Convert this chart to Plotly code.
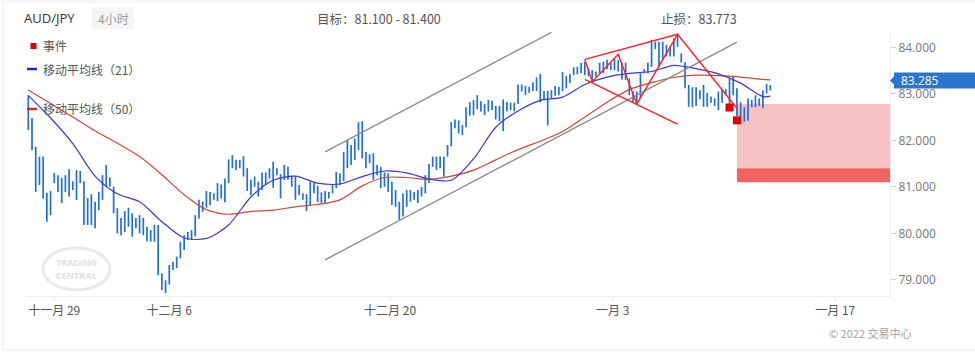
import plotly.graph_objects as go

# ---------------- data ----------------
symbol = "AUD/JPY"
timeframe = "4小时"
target_text = "目标：81.100 - 81.400"
stop_text = "止损：83.773"
last_price = 83.285
target_low, target_high = 81.1, 81.4
entry_level = 82.78

bar_high = [
    82.97, 82.48, 81.86, 81.65, 81.65, 80.87, 80.91, 81.30, 81.25, 81.19,
    81.25, 81.38, 81.12, 81.36, 81.34, 81.12, 80.76, 80.84, 80.68, 80.89,
    81.25, 81.47, 81.20, 81.00, 80.54, 80.33, 80.48, 80.55, 80.43, 80.33,
    80.39, 80.33, 80.14, 80.07, 80.18, 80.18, 79.14, 78.99, 79.32, 79.39,
    79.50, 79.82, 79.96, 80.03, 80.07, 80.39, 80.72, 80.68, 80.91, 80.89,
    80.86, 81.08, 81.05, 81.18, 81.59, 81.68, 81.58, 81.58, 81.66, 81.40,
    81.15, 81.22, 81.11, 81.31, 81.31, 81.40, 81.54, 81.40, 81.27, 81.47,
    81.43, 81.24, 81.22, 81.04, 80.86, 80.84, 81.11, 81.08, 81.02, 80.88,
    80.91, 80.89, 81.05, 81.32, 81.29, 81.75, 82.01, 81.90, 82.04, 82.39,
    82.41, 81.75, 81.70, 81.72, 81.47, 81.43, 81.31, 81.29, 81.11, 80.93,
    80.68, 80.86, 80.93, 80.93, 80.89, 80.93, 81.00, 81.25, 81.49, 81.65,
    81.65, 81.65, 81.65, 81.90, 82.39, 82.45, 82.43, 82.33, 82.71, 82.82,
    82.87, 82.97, 82.84, 82.78, 82.87, 82.85, 82.74, 82.74, 82.88, 82.83,
    82.81, 82.81, 83.20, 83.20, 83.17, 83.15, 83.25, 83.35, 83.43, 83.06,
    83.06, 83.08, 83.17, 83.15, 83.47, 83.38, 83.42, 83.57, 83.58, 83.66,
    83.69, 83.55, 83.51, 83.48, 83.67, 83.69, 83.73, 83.67, 83.76, 83.73,
    83.67, 83.67, 83.33, 83.05, 83.05, 83.44, 83.53, 83.67, 84.16, 84.12,
    84.12, 84.12, 84.05, 84.01, 84.19, 84.28, 83.87, 83.68, 83.19, 83.14,
    83.14, 83.08, 83.19, 83.02, 82.94, 82.90, 83.05, 83.10, 83.10, 83.33,
    83.37, 83.12, 82.82, 82.71, 82.90, 82.87, 82.97, 82.90, 83.07, 83.21,
    83.19,
]
bar_low = [
    82.22, 81.79, 80.89, 81.04, 80.75, 80.25, 80.39, 81.08, 80.89, 80.65,
    80.89, 80.79, 80.93, 80.72, 81.08, 80.18, 80.18, 80.18, 80.11, 80.50,
    80.72, 81.00, 81.00, 80.43, 80.00, 79.96, 80.03, 80.14, 79.93, 80.11,
    80.00, 79.96, 79.83, 79.82, 79.82, 79.10, 78.78, 78.71, 78.90, 79.21,
    79.25, 79.46, 79.64, 79.86, 79.86, 79.93, 80.32, 80.46, 80.55, 80.61,
    80.72, 80.69, 80.75, 80.67, 81.08, 81.40, 81.36, 81.40, 81.22, 80.91,
    80.82, 81.00, 80.79, 80.93, 81.04, 81.18, 80.98, 81.25, 80.75, 81.15,
    81.15, 81.00, 80.72, 80.82, 80.72, 80.48, 80.59, 80.86, 80.67, 80.65,
    80.65, 80.75, 80.86, 80.97, 81.04, 81.12, 81.40, 81.47, 81.58, 81.79,
    81.61, 81.40, 81.51, 81.15, 81.25, 80.97, 81.00, 80.89, 80.61, 80.57,
    80.29, 80.36, 80.57, 80.68, 80.72, 80.65, 80.79, 80.86, 81.08, 81.43,
    81.36, 81.40, 81.22, 81.65, 81.87, 82.26, 82.15, 82.11, 82.28, 82.53,
    82.54, 82.67, 82.62, 82.54, 82.62, 82.65, 82.45, 82.41, 82.20, 82.62,
    82.65, 82.62, 82.78, 83.05, 82.97, 83.02, 83.06, 83.06, 82.82, 82.87,
    82.32, 82.91, 82.96, 82.97, 83.06, 83.12, 83.23, 83.40, 83.42, 83.45,
    83.40, 83.38, 83.26, 83.37, 83.44, 83.44, 83.53, 83.51, 83.51, 83.48,
    83.31, 83.30, 82.97, 82.80, 82.80, 82.90, 83.44, 83.44, 83.58, 83.96,
    83.58, 83.74, 83.80, 83.80, 83.80, 84.01, 83.67, 83.12, 82.72, 82.71,
    82.74, 82.88, 82.72, 82.72, 82.81, 82.74, 82.65, 82.81, 82.97, 82.76,
    82.97, 82.52, 82.35, 82.40, 82.42, 82.71, 82.71, 82.74, 82.69, 83.01,
    83.07,
]

ma_idx = [0, 6, 12, 18, 24, 30, 36, 42, 48, 54, 60, 66, 72, 78, 84, 90, 96,
          102, 108, 114, 120, 126, 132, 138, 144, 150, 156, 162, 168, 174,
          180, 186, 192, 198, 200]
ma21 = [82.96, 82.48, 81.93, 81.23, 80.85, 80.68, 80.25, 79.90, 79.89, 80.18,
        80.78, 81.14, 81.23, 81.08, 81.06, 81.22, 81.34, 81.30, 81.17, 81.14,
        81.60, 82.28, 82.63, 82.86, 82.93, 83.20, 83.36, 83.44, 83.48, 83.61,
        83.54, 83.43, 83.23, 82.94, 82.95]
ma50 = [83.08, 82.79, 82.50, 82.20, 81.94, 81.65, 81.26, 80.83, 80.51, 80.41,
        80.47, 80.50, 80.57, 80.62, 80.72, 81.02, 81.20, 81.20, 81.16, 81.23,
        81.36, 81.58, 81.80, 81.98, 82.19, 82.50, 82.82, 83.09, 83.24, 83.35,
        83.40, 83.39, 83.36, 83.31, 83.30]

channel_upper_x = [80, 141]
channel_upper_y = [81.75, 84.32]
channel_lower_x = [80, 191]
channel_lower_y = [79.43, 84.11]

zigzag_x = [150, 152, 159, 164, 175, 191]
zigzag_y = [83.74, 83.26, 83.85, 82.78, 84.28, 82.69]
wedge_top_x = [150, 175]
wedge_top_y = [83.74, 84.28]
wedge_bot_x = [150, 175]
wedge_bot_y = [83.31, 82.35]

event_x = [189, 191]
event_y = [82.705, 82.43]

tick_idx = [7, 38, 97.5, 157.5, 217.5]
tick_text = ["十一月 29", "十二月 6", "十二月 20", "一月 3", "一月 17"]
price_ticks = [79, 80, 81, 82, 83, 84]

x_range = [-0.62, 232.26]
y_range = [78.652, 84.329]

# ---------------- layout helpers ----------------
FIG_W, FIG_H = 975, 354
L, R, T, B = 26, 890, 32, 296
PW, PH = R - L, B - T


def X(px):
    return (px - L) / PW


def Y(py):
    return (B - py) / PH


FONT = "Open Sans, Noto Sans CJK SC, sans-serif"
CJK = "Noto Sans CJK SC, Open Sans, sans-serif"
BAR_BLUE = "#2170d2"

fig = go.Figure()

# OHLC bars as vertical segments
bx, by = [], []
for i, (h, l) in enumerate(zip(bar_high, bar_low)):
    bx += [i, i, None]
    by += [l, h, None]
fig.add_trace(go.Scatter(x=bx, y=by, mode="lines",
                         line=dict(color=BAR_BLUE, width=1.7),
                         hoverinfo="skip", showlegend=False))

# moving averages
fig.add_trace(go.Scatter(x=ma_idx, y=ma50, mode="lines",
                         line=dict(color="#c9483c", width=1.2, shape="spline", smoothing=0.8),
                         showlegend=False, hoverinfo="skip"))
fig.add_trace(go.Scatter(x=ma_idx, y=ma21, mode="lines",
                         line=dict(color="#3a3ad4", width=1.2, shape="spline", smoothing=0.8),
                         showlegend=False, hoverinfo="skip"))

# channel
for xs, ys in [(channel_upper_x, channel_upper_y), (channel_lower_x, channel_lower_y)]:
    fig.add_trace(go.Scatter(x=xs, y=ys, mode="lines",
                             line=dict(color="#8a8a8a", width=1.3),
                             showlegend=False, hoverinfo="skip"))

# red pattern
for xs, ys in [(zigzag_x, zigzag_y), (wedge_top_x, wedge_top_y), (wedge_bot_x, wedge_bot_y)]:
    fig.add_trace(go.Scatter(x=xs, y=ys, mode="lines",
                             line=dict(color="#ff2222", width=1.4),
                             showlegend=False, hoverinfo="skip"))

# events
fig.add_trace(go.Scatter(x=event_x, y=event_y, mode="markers",
                         marker=dict(symbol="square", size=8, color="#e00000"),
                         showlegend=False, hoverinfo="skip"))

shapes = []
# target zone
shapes.append(dict(type="rect", xref="x", yref="y", x0=event_x[1], x1=x_range[1],
                   y0=target_high, y1=entry_level, fillcolor="#f7c2c2",
                   line=dict(width=0), layer="below"))
shapes.append(dict(type="rect", xref="x", yref="y", x0=event_x[1], x1=x_range[1],
                   y0=target_low, y1=target_high, fillcolor="#ef6363",
                   line=dict(width=0), layer="below"))

# price tag
tag_half = 0.172
shapes.append(dict(type="rect", xref="paper", yref="y", x0=X(894), x1=X(976),
                   y0=last_price - tag_half, y1=last_price + tag_half,
                   fillcolor="#2b74cf", line=dict(width=0)))
shapes.append(dict(type="path", xref="paper", yref="y",
                   path=f"M {X(894.5)} {last_price + 0.09} L {X(890)} {last_price} L {X(894.5)} {last_price - 0.09} Z",
                   fillcolor="#2b74cf", line=dict(width=0)))

# legend marks
shapes.append(dict(type="rect", xref="paper", yref="paper", x0=X(30.5), x1=X(36.5),
                   y0=Y(49), y1=Y(43), fillcolor="#e00000", line=dict(width=0)))
shapes.append(dict(type="line", xref="paper", yref="paper", x0=X(27), x1=X(37),
                   y0=Y(69), y1=Y(69), line=dict(color="#2525c8", width=2.5)))
shapes.append(dict(type="line", xref="paper", yref="paper", x0=X(27), x1=X(37),
                   y0=Y(109), y1=Y(109), line=dict(color="#b83a2e", width=2.5)))

# watermark ellipse
shapes.append(dict(type="circle", xref="paper", yref="paper", x0=X(43), x1=X(110),
                   y0=Y(290), y1=Y(248), line=dict(color="#e9e9e9", width=3)))

# frame: top strip, left & bottom border
shapes.append(dict(type="rect", xref="paper", yref="paper", x0=X(0), x1=X(975),
                   y0=Y(3), y1=Y(0), fillcolor="#f6f6f6", line=dict(width=0)))
shapes.append(dict(type="line", xref="paper", yref="paper", x0=X(3), x1=X(3),
                   y0=Y(350), y1=Y(3), line=dict(color="#ececec", width=1)))
shapes.append(dict(type="line", xref="paper", yref="paper", x0=X(3), x1=X(975),
                   y0=Y(350), y1=Y(350), line=dict(color="#ececec", width=1)))
# timeframe chip
shapes.append(dict(type="rect", xref="paper", yref="paper", x0=X(92), x1=X(134),
                   y0=Y(29), y1=Y(7), fillcolor="#f5f5f5", line=dict(width=0)))

annotations = []


def text(px, py, s, size=12, color="#555", anchor="left", family=FONT, bold=False):
    annotations.append(dict(xref="paper", yref="paper", x=X(px), y=Y(py),
                            text=f"<b>{s}</b>" if bold else s, showarrow=False,
                            xanchor=anchor, yanchor="middle",
                            font=dict(size=size, color=color, family=family)))


text(22, 18, symbol, size=13, color="#333")
text(113, 18, timeframe, size=12, color="#9a9a9a", anchor="center", family=CJK)
text(315, 18, target_text, size=12.5, color="#555", family=CJK)
text(659, 18, stop_text, size=12.5, color="#555", family=CJK)
text(41, 46, "事件", size=12, color="#555", family=CJK)
text(41, 69, "移动平均线（21）", size=12, color="#555", family=CJK)
text(41, 109, "移动平均线（50）", size=12, color="#555", family=CJK)
text(914, 333, "© 2022 交易中心", size=11, color="#a0a0a0", anchor="right", family=CJK)
text(899, 81, f"{last_price:.3f}", size=12, color="#ffffff")
text(76.5, 262, "TRADING", size=9, color="#e0e0e0", anchor="center", bold=True)
text(76.5, 275, "CENTRAL", size=9, color="#e0e0e0", anchor="center", bold=True)

fig.update_layout(
    width=FIG_W, height=FIG_H,
    margin=dict(l=L, r=FIG_W - R, t=T, b=FIG_H - B, pad=0),
    paper_bgcolor="white", plot_bgcolor="white",
    showlegend=False,
    shapes=shapes, annotations=annotations,
    xaxis=dict(range=x_range, tickmode="array", tickvals=tick_idx, ticktext=tick_text,
               showgrid=False, zeroline=False, showline=True, linecolor="#eeeeee",
               ticks="outside", ticklen=4, tickcolor="#e4e4e4",
               tickfont=dict(size=12, color="#555", family=CJK), fixedrange=True),
    yaxis=dict(range=y_range, side="right", tickmode="array", tickvals=price_ticks,
               tickformat=".3f", showgrid=False, zeroline=False, showline=True,
               linecolor="#eeeeee", ticks="outside", ticklen=5, tickcolor="#d0d0d0",
               tickfont=dict(size=12, color="#777", family=FONT), fixedrange=True),
)

fig.write_html("out.html", config={"displayModeBar": False})
